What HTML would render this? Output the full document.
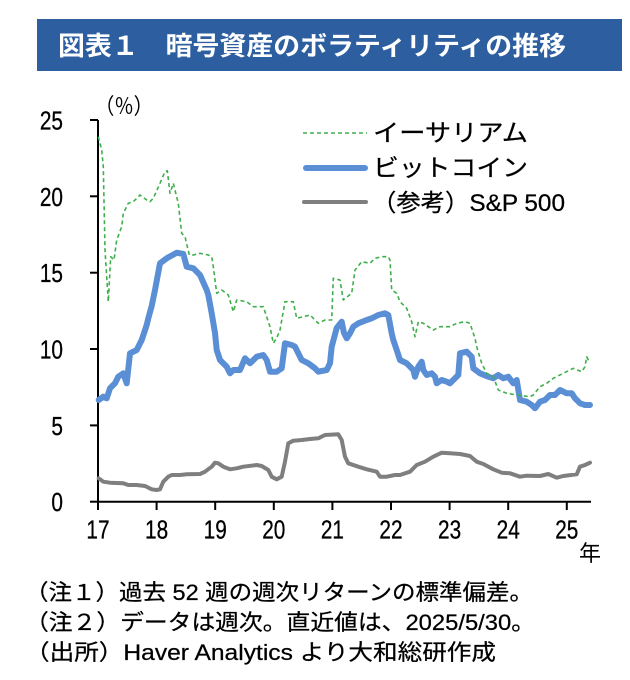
<!DOCTYPE html>
<html><head><meta charset="utf-8"><style>
html,body{margin:0;padding:0;background:#fff;}
svg{display:block;}
</style></head><body>
<svg width="630" height="680" viewBox="0 0 630 680" xmlns="http://www.w3.org/2000/svg">
<rect x="0" y="0" width="630" height="680" fill="#fff"/>
<!-- title bar -->
<rect x="37" y="19" width="585" height="52" fill="#2D5FA0"/>
<text x="58" y="55" font-family="'Liberation Sans','Noto Sans CJK JP',sans-serif" font-size="26" font-weight="bold" fill="#fff" textLength="508" lengthAdjust="spacingAndGlyphs">図表１　暗号資産のボラティリティの推移</text>

<!-- unit -->
<text x="95" y="114" font-family="'Liberation Sans','Noto Sans CJK JP',sans-serif" font-size="22" fill="#000" textLength="58" lengthAdjust="spacingAndGlyphs">（％）</text>

<!-- axes -->
<g stroke="#000" stroke-width="2" fill="none">
<line x1="98" y1="120" x2="98" y2="502"/>
<line x1="97" y1="501.7" x2="591" y2="501.7"/>
<line x1="90" y1="120" x2="98" y2="120"/>
<line x1="90" y1="196.3" x2="98" y2="196.3"/>
<line x1="90" y1="272.7" x2="98" y2="272.7"/>
<line x1="90" y1="349" x2="98" y2="349"/>
<line x1="90" y1="425.4" x2="98" y2="425.4"/>
<line x1="90" y1="501.7" x2="98" y2="501.7"/>
<line x1="98" y1="501.7" x2="98" y2="510"/>
<line x1="156.6" y1="501.7" x2="156.6" y2="510"/>
<line x1="215.2" y1="501.7" x2="215.2" y2="510"/>
<line x1="273.8" y1="501.7" x2="273.8" y2="510"/>
<line x1="332.4" y1="501.7" x2="332.4" y2="510"/>
<line x1="391" y1="501.7" x2="391" y2="510"/>
<line x1="449.6" y1="501.7" x2="449.6" y2="510"/>
<line x1="508.2" y1="501.7" x2="508.2" y2="510"/>
<line x1="566.8" y1="501.7" x2="566.8" y2="510"/>
</g>

<!-- y labels -->
<g font-family="'Liberation Sans',sans-serif" font-size="26" fill="#000" text-anchor="end" stroke="#000" stroke-width="0.3">
<text transform="translate(63,129.5) scale(0.8,1)">25</text>
<text transform="translate(63,205.8) scale(0.8,1)">20</text>
<text transform="translate(63,282.2) scale(0.8,1)">15</text>
<text transform="translate(63,358.5) scale(0.8,1)">10</text>
<text transform="translate(63,434.9) scale(0.8,1)">5</text>
<text transform="translate(63,511.2) scale(0.8,1)">0</text>
</g>
<!-- x labels -->
<g font-family="'Liberation Sans',sans-serif" font-size="26" fill="#000" text-anchor="middle" stroke="#000" stroke-width="0.3">
<text transform="translate(98,538.5) scale(0.8,1)">17</text>
<text transform="translate(156.6,538.5) scale(0.8,1)">18</text>
<text transform="translate(215.2,538.5) scale(0.8,1)">19</text>
<text transform="translate(273.8,538.5) scale(0.8,1)">20</text>
<text transform="translate(332.4,538.5) scale(0.8,1)">21</text>
<text transform="translate(391,538.5) scale(0.8,1)">22</text>
<text transform="translate(449.6,538.5) scale(0.8,1)">23</text>
<text transform="translate(508.2,538.5) scale(0.8,1)">24</text>
<text transform="translate(566.8,538.5) scale(0.8,1)">25</text>
</g>
<text x="579" y="561" font-family="'Liberation Sans','Noto Sans CJK JP',sans-serif" font-size="22" fill="#000">年</text>

<!-- S&P 500 -->
<polyline fill="none" stroke="#7F7F7F" stroke-width="4" stroke-linejoin="round" stroke-linecap="round" points="
98.7,478.3 103.3,481.7 110,482.7 123.3,483.3 128.3,485 136.7,485 145,486 151.7,489.3 156.7,490 160,489.3 163.3,481.7 168.3,476.7 171.7,475 180,475 186.7,474.3 200,474 205,471.7 211.7,466.7 215,462.7 218.3,463.3 223.3,466.7 230,469.3 236.7,468.3 243.3,466.7 256.7,465 261.7,466 268.3,470 271.7,476.7 276.7,479.3 281.7,476.7 285,461.7 288.3,443.3 293.3,440.7 301.7,440 310,439 318.3,438.3 325,435 338.3,434.3 341.7,440 345,456.7 348.3,463.3 358.3,466.7 366.7,469.3 376.7,471.7 380,476.7 386.7,476.7 395,475 400,475 410,471.7 416.7,465 425,461.7 433.3,456.7 441.7,452.7 450,453.3 460,454 470,456 476.7,461.7 483.3,464 493.3,469.3 501.7,472.7 510,473.3 520,476.7 526.7,475.7 540,476 548.3,474 556.7,477.7 563.3,476 576.7,474.3 580,466.7 585,465 590,462.7"/>

<!-- Bitcoin -->
<polyline fill="none" stroke="#5B8FD5" stroke-width="6" stroke-linejoin="round" stroke-linecap="round" points="
98.7,400 103.3,396.7 106.7,398.3 110,388.3 115,383.3 118.3,376.7 123.3,373.3 126.7,383.3 130,353.3 136.7,350 141.7,340 146.7,325 148.3,318.3 151.7,306 155,290 160,263.3 166.7,258.3 176.7,252.7 183.3,254 186.7,266.7 193.3,268.3 200,275 206.7,290 208.3,295 211.7,313.3 215,333 216.7,350 220,360 226.7,366.7 230,373.3 233.3,370 240,370 245,358.3 250,363.3 256.7,356.7 263.3,355 266.7,360 270,371.7 276.7,371.7 281.7,368.3 285,343.3 291.7,345 295,346.7 301.7,360 308.3,363.3 315,368.3 318.3,371.7 326.7,370 330,363.3 331.7,346.7 336.7,328 341.7,321.7 344,333 346.7,338.3 350,333.3 353.3,326.7 358.3,323.3 366.7,320 371.7,318.3 378.3,315 385,313.3 388.3,315 391.7,333.3 393.3,340 396.7,350 400,360 406.7,363.3 413.3,370 415,376.7 418.3,366.7 421.7,361.7 423.3,370 426.7,375 431.7,373.3 435,376.7 436.7,383.3 441.7,380 446.7,381.7 450,383.3 455,378.3 458.3,375 460,353.3 466.7,351.7 471.7,356.7 473.3,368.3 480,373.3 488.3,376.7 493.3,378.3 498.3,375 503.3,378.3 508.3,376.7 513.3,383.3 516.7,380 520,400 526.7,401.7 531.7,405 535,408.3 540,401.7 545,400 550,395 555,395 560,390 566.7,393.3 571.7,393.3 575,398.3 580,403.3 585,405 590,405"/>

<!-- Ethereum -->
<polyline fill="none" stroke="#3FAF4B" stroke-width="1.6" stroke-dasharray="4 3" stroke-linejoin="round" points="
98.3,136.7 101.7,150 103.3,166.7 105,250 108.3,301.7 110.7,256.7 114,260 116.7,240 121.7,226.7 123.3,213.3 128.3,203.3 133.3,201.7 140,195 146.7,200 150,201.7 153.3,198.3 160,183.3 165,171.7 167.3,170.7 170,193.3 173.3,183.3 178.3,203.3 181.7,233.3 185,236.7 189.3,255 193.3,255 200,253.3 208.3,255 211.7,256.7 213.3,266.7 216.7,293.3 221.7,290 228.3,295 233.3,311.7 236.7,300 246.7,301.7 253.3,306.7 263.3,306.7 270,326.7 273.3,343.3 276.7,338 280,330 285,301.7 293.3,301.7 296.7,318.3 310,315 318.3,323.3 325,320 331.7,320 333.3,278.3 340,280 343.3,300 351.7,293.3 355,270 361.7,261.7 370,263.3 375,258.3 381.7,256.7 388.3,256.7 390,260 391.7,290 396.7,293.3 400,301.7 406.7,308.3 411.7,321.7 415,336.7 418.3,321.7 423.3,323.3 428.3,326.7 433.3,330 440,326.7 450,326.7 456.7,323.3 465,321.7 470,323.3 475,338.3 476.7,346.7 481.7,363.3 486.7,373.3 493.3,376.7 498.3,390 506.7,393.3 516.7,395 530,396.7 533.3,395 540,386.7 546.7,383.3 553.3,378.3 563.3,373.3 573.3,368.3 581.7,371.7 585,366.7 586.7,356.7 589.3,361.7"/>

<!-- legend -->
<line x1="303" y1="133" x2="367" y2="133" stroke="#3FAF4B" stroke-width="1.6" stroke-dasharray="4 3"/>
<line x1="306" y1="168" x2="365" y2="168" stroke="#5B8FD5" stroke-width="6" stroke-linecap="round"/>
<line x1="304" y1="202" x2="366" y2="202" stroke="#7F7F7F" stroke-width="4" stroke-linecap="round"/>
<g font-family="'Liberation Sans','Noto Sans CJK JP',sans-serif" font-size="24" fill="#000" stroke="#000" stroke-width="0.25">
<text x="373" y="141" textLength="155" lengthAdjust="spacingAndGlyphs">イーサリアム</text>
<text x="373" y="176" textLength="155" lengthAdjust="spacingAndGlyphs">ビットコイン</text>
<text x="372" y="211" textLength="193" lengthAdjust="spacingAndGlyphs">（参考）S&amp;P 500</text>
</g>

<!-- notes -->
<g font-family="'Liberation Sans','Noto Sans CJK JP',sans-serif" font-size="22" fill="#000" stroke="#000" stroke-width="0.25">
<text x="25" y="600" textLength="508" lengthAdjust="spacingAndGlyphs">（注１）過去 52 週の週次リターンの標準偏差。</text>
<text x="25" y="630" textLength="510" lengthAdjust="spacingAndGlyphs">（注２）データは週次。直近値は、2025/5/30。</text>
<text x="25" y="660" textLength="471" lengthAdjust="spacingAndGlyphs">（出所）Haver Analytics より大和総研作成</text>
</g>
</svg>
</body></html>
